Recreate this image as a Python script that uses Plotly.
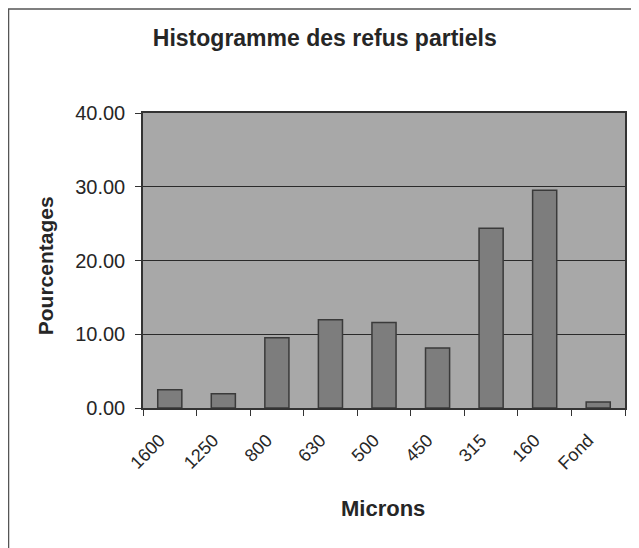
import plotly.graph_objects as go

categories = ["1600", "1250", "800", "630", "500", "450", "315", "160", "Fond"]
values = [2.48, 1.94, 9.51, 11.95, 11.59, 8.12, 24.36, 29.54, 0.81]
y_ticks = [0, 10, 20, 30, 40]
y_tick_labels = ["0.00", "10.00", "20.00", "30.00", "40.00"]

font_family = "Liberation Sans, Arial, sans-serif"
txt = "#262626"

fig = go.Figure(
    go.Bar(
        x=categories,
        y=values,
        width=0.45,
        marker=dict(color="#7d7d7d", line=dict(color="#3a3a3a", width=1.5)),
    )
)

fig.update_layout(
    width=631,
    height=540,
    margin=dict(l=135, r=14, t=105, b=140),
    paper_bgcolor="white",
    plot_bgcolor="#a8a8a8",
    showlegend=False,
    font=dict(family=font_family, color=txt),
    title=dict(
        text="<b>Histogramme des refus partiels</b>",
        x=0.502,
        xanchor="center",
        y=0.944,
        yanchor="middle",
        font=dict(size=23, family=font_family, color=txt),
    ),
    annotations=[
        dict(text="<b>Microns</b>", xref="paper", yref="paper", x=0.498, y=-0.339,
             xanchor="center", yanchor="middle", showarrow=False,
             font=dict(size=22, family=font_family, color=txt)),
        dict(text="<b>Pourcentages</b>", xref="paper", yref="paper", x=-0.203, y=0.481,
             xanchor="center", yanchor="middle", showarrow=False, textangle=-90,
             font=dict(size=21, family=font_family, color=txt)),
    ],
    shapes=[
        dict(
            type="rect", xref="paper", yref="paper",
            x0=-0.279, x1=1.0228, y0=-0.5, y1=1.3525,
            line=dict(color="#555555", width=1.5),
            fillcolor="rgba(0,0,0,0)",
            layer="below",
        )
    ],
)

fig.update_xaxes(
    type="category",
    tickangle=-45,
    tickson="boundaries",
    ticks="outside",
    ticklen=6,
    tickcolor="#333333",
    ticklabelstandoff=13,
    ticklabelshift=-10,
    showgrid=False,
    showline=True,
    linecolor="#333333",
    linewidth=1.5,
    mirror=True,
    tickfont=dict(size=18, family=font_family, color=txt),
)

fig.update_yaxes(
    range=[0, 40],
    tickvals=y_ticks,
    ticktext=y_tick_labels,
    ticks="outside",
    ticklen=6,
    tickcolor="#333333",
    ticklabelstandoff=6,
    showgrid=True,
    gridcolor="#2a2a2a",
    gridwidth=1.2,
    showline=True,
    linecolor="#333333",
    linewidth=1.5,
    mirror=True,
    zeroline=False,
    tickfont=dict(size=20, family=font_family, color=txt),
)

fig.write_html("out.html")
